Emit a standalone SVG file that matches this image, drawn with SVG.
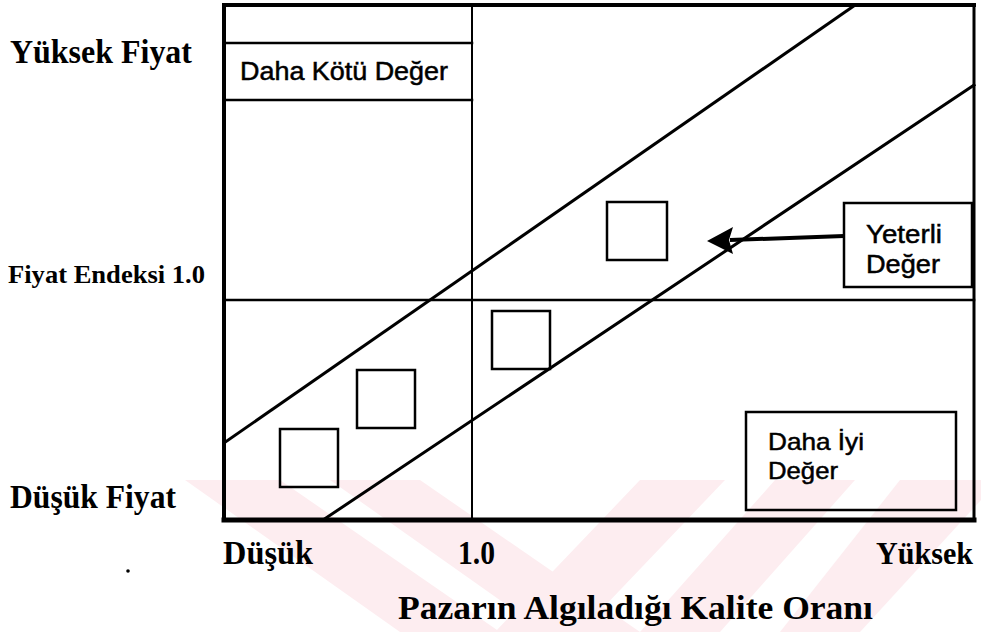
<svg xmlns="http://www.w3.org/2000/svg" width="981" height="632" viewBox="0 0 981 632">
<style>
.serif{font-family:"Liberation Serif","Times New Roman",serif;font-weight:bold;fill:#000}
.sans{font-family:"Liberation Sans",Arial,sans-serif;fill:#000;stroke:#000;stroke-width:0.5}
.ln{stroke:#000;fill:none;stroke-linecap:square}
.sq{stroke:#000;fill:none;stroke-width:2.5}
.wm{fill:#fdedf0}
</style>
<rect width="981" height="632" fill="#fff"/>
<g id="watermark">
<polygon class="wm" points="185,480 280,480 500,632 400,632"/>
<polygon class="wm" points="330,480 420,480 640,632 545,632"/>
<polygon class="wm" points="640,480 725,480 580,632 495,632"/>
<polygon class="wm" points="775,480 855,480 720,632 640,632"/>
<polygon class="wm" points="900,480 981,480 981,500 860,632 780,632"/>
</g>
<g id="frame">
<line class="ln" x1="224" y1="5" x2="974" y2="5" stroke-width="4"/>
<line class="ln" x1="224" y1="5" x2="224" y2="520" stroke-width="4"/>
<line class="ln" x1="974" y1="5" x2="974" y2="520" stroke-width="3"/>
<line class="ln" x1="224" y1="520" x2="974" y2="520" stroke-width="5"/>
<line class="ln" x1="472" y1="5" x2="472" y2="520" stroke-width="2"/>
<line class="ln" x1="224" y1="300" x2="974" y2="300" stroke-width="2.5"/>
<line class="ln" x1="224" y1="443" x2="855" y2="5" stroke-width="3"/>
<line class="ln" x1="323" y1="520" x2="974" y2="85" stroke-width="3"/>
</g>
<g id="daha-kotu">
<line class="ln" x1="224" y1="43" x2="472" y2="43" stroke-width="2.5"/>
<line class="ln" x1="224" y1="100" x2="472" y2="100" stroke-width="2.5"/>
<text class="sans" x="240" y="80" font-size="25" textLength="208" lengthAdjust="spacingAndGlyphs">Daha Kötü Değer</text>
</g>
<g id="square1"><rect class="sq" x="280" y="429" width="58" height="58"/></g>
<g id="square2"><rect class="sq" x="357" y="370" width="58" height="58"/></g>
<g id="square3"><rect class="sq" x="492" y="311" width="58" height="58"/></g>
<g id="square4"><rect class="sq" x="607" y="202" width="60" height="58"/></g>
<g id="yeterli">
<rect class="sq" x="844" y="203" width="128" height="84"/>
<text class="sans" x="866" y="243" font-size="26" textLength="76" lengthAdjust="spacingAndGlyphs">Yeterli</text>
<text class="sans" x="866" y="273" font-size="26" textLength="74" lengthAdjust="spacingAndGlyphs">Değer</text>
</g>
<g id="daha-iyi">
<rect class="sq" x="746" y="412" width="210" height="98"/>
<text class="sans" x="768" y="450" font-size="24" textLength="96" lengthAdjust="spacingAndGlyphs">Daha İyi</text>
<text class="sans" x="768" y="479" font-size="24" textLength="70" lengthAdjust="spacingAndGlyphs">Değer</text>
</g>
<g id="connectors">
<line x1="844" y1="236" x2="730" y2="240" stroke="#000" stroke-width="4"/>
<polygon points="707,241 733,227 729,240 733,254" fill="#000"/>
</g>
<g id="labels">
<text class="serif" x="10" y="63" font-size="33" textLength="182" lengthAdjust="spacingAndGlyphs">Yüksek Fiyat</text>
<text class="serif" x="8" y="283" font-size="26" textLength="197" lengthAdjust="spacingAndGlyphs">Fiyat Endeksi 1.0</text>
<text class="serif" x="10" y="508" font-size="33" textLength="166" lengthAdjust="spacingAndGlyphs">Düşük Fiyat</text>
<text class="serif" x="223" y="564" font-size="33" textLength="90" lengthAdjust="spacingAndGlyphs">Düşük</text>
<text class="serif" x="458" y="564" font-size="33" textLength="37" lengthAdjust="spacingAndGlyphs">1.0</text>
<text class="serif" x="876" y="564" font-size="31" textLength="97" lengthAdjust="spacingAndGlyphs">Yüksek</text>
<text class="serif" x="398" y="619" font-size="34" textLength="475" lengthAdjust="spacingAndGlyphs">Pazarın Algıladığı Kalite Oranı</text>
</g>
<circle cx="128" cy="571" r="1.8" fill="#000"/>
</svg>
